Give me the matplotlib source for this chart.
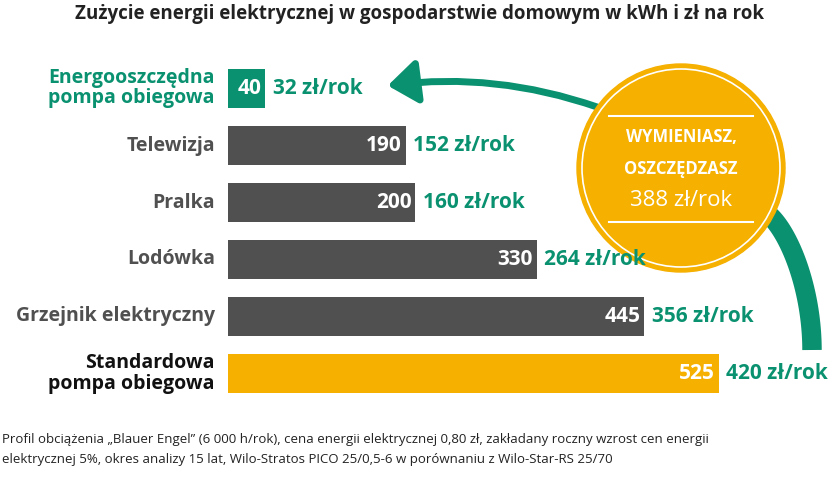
import numpy as np
import matplotlib.pyplot as plt
from matplotlib.patches import Circle, FancyArrowPatch

plt.rcParams['font.family'] = ['Open Sans', 'DejaVu Sans']

labels = ["Energooszczędna\npompa obiegowa", "Telewizja", "Pralka", "Lodówka",
          "Grzejnik elektryczny", "Standardowa\npompa obiegowa"]
kwh = [40, 190, 200, 330, 445, 525]
cost = [32, 152, 160, 264, 356, 420]
savings = 388

GREEN = "#0a9170"
GREY = "#505050"
YELLOW = "#f5b000"
colors = [GREEN, GREY, GREY, GREY, GREY, YELLOW]
label_colors = [GREEN, GREY, GREY, GREY, GREY, "#111111"]

W, H = 840, 480
fig = plt.figure(figsize=(8.4, 4.8), dpi=100)

# bar axes: x from 228px to 719px, y from 60px to 402px
ax = fig.add_axes([228 / W, 1 - 402 / H, (719 - 228) / W, (402 - 60) / H])
ax.set_xlim(0, 525)
ax.set_ylim(len(kwh) - 0.5, -0.5)
ax.axis("off")
y = np.arange(len(kwh))
ax.barh(y, kwh, height=0.7, color=colors)

# overlay in pixel coordinates
ov = fig.add_axes([0, 0, 1, 1], zorder=3)
ov.set_xlim(0, W)
ov.set_ylim(H, 0)
ov.axis("off")

for i, (v, c) in enumerate(zip(kwh, cost)):
    ax.text(v - 4, i, str(v), ha="right", va="center", color="white",
            fontsize=15, fontweight="bold")
    # cost labels drawn above the circle
    ov.text(v + 8, i, f"{c} zł/rok", ha="left", va="center", color=GREEN,
            fontsize=15, fontweight="bold", transform=ax.transData, zorder=6)
    ax.text(-14, i, labels[i], ha="right", va="center", color=label_colors[i],
            fontsize=14, fontweight="bold", linespacing=1.0, clip_on=False)

ov.text(420, 14, "Zużycie energii elektrycznej w gospodarstwie domowym w kWh i zł na rok",
        ha="center", va="center", fontsize=13.5, fontweight="bold", color="#222222")

# arrows
ov.add_patch(FancyArrowPatch((600, 108), (385, 86), connectionstyle="arc3,rad=0.12",
                             arrowstyle="-|>,head_length=8,head_width=6", lw=5,
                             color=GREEN, mutation_scale=2.2, zorder=2))
t = np.linspace(0, 1, 50)
bx = 760 + 52 * np.sin(t * np.pi / 2)
by = 210 + 140 * (1 - np.cos(t * np.pi / 2)) ** 0.8
ov.plot(bx, by, color=GREEN, lw=14, solid_capstyle="butt", zorder=2)

ov.add_patch(Circle((681, 168), 104, color=YELLOW, zorder=3))
ov.add_patch(Circle((681, 168), 99, fill=False, ec="white", lw=1.2, zorder=4))
ov.plot([609, 753], [116, 116], color="white", lw=1.5, zorder=4)
ov.plot([609, 753], [222, 222], color="white", lw=1.5, zorder=4)
ov.text(681, 137, "WYMIENIASZ,", ha="center", va="center", color="white",
        fontsize=12, fontweight="bold", zorder=5)
ov.text(681, 169, "OSZCZĘDZASZ", ha="center", va="center", color="white",
        fontsize=12, fontweight="bold", zorder=5)
ov.text(681, 200, f"{savings} zł/rok", ha="center", va="center", color="white",
        fontsize=16, zorder=5)

ov.text(2, 440, "Profil obciążenia „Blauer Engel” (6 000 h/rok), cena energii elektrycznej 0,80 zł, "
        "zakładany roczny wzrost cen energii", ha="left", va="center", fontsize=9.5, color="#222222")
ov.text(2, 460, "elektrycznej 5%, okres analizy 15 lat, Wilo-Stratos PICO 25/0,5-6 w porównaniu z Wilo-Star-RS 25/70",
        ha="left", va="center", fontsize=9.5, color="#222222")

fig.savefig("out.png", dpi=100)
